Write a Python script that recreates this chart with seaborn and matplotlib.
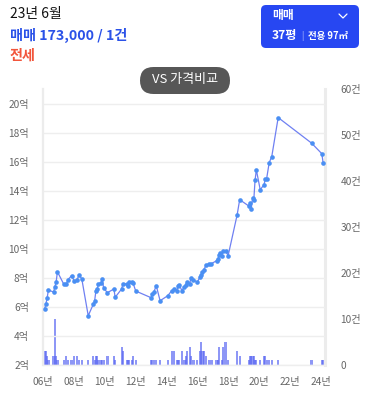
import matplotlib
matplotlib.use("Agg")
import numpy as np
import pandas as pd
import matplotlib.pyplot as plt
import matplotlib.patches as mpatches
from matplotlib.lines import Line2D
from matplotlib.transforms import IdentityTransform
import seaborn as sns

# ---------------- data ----------------
# months counted from Jan 2006 (0 = 2006-01)
price_months = [1, 2, 3, 4, 8, 9, 10, 11, 16, 18, 19, 22, 24, 26, 28, 30, 35,
                39, 40, 41, 42, 43, 45, 46, 47, 50, 55, 56, 61, 62, 65, 66, 67,
                69, 70, 72, 84, 85, 86, 88, 91, 97, 100, 102, 104, 105, 106, 108,
                110, 111, 112, 114, 115, 117, 120, 122, 123, 124, 125, 127, 129,
                131, 135, 136, 137, 138, 139, 140, 142, 144, 151, 153, 160, 161,
                162, 163, 164, 165, 166, 169, 172, 173, 174, 176, 178, 183, 209,
                217, 218]
price_values = [5.86, 6.2, 6.64, 7.17, 7.03, 7.4, 7.72, 8.43, 7.56, 7.56, 7.86,
                8.16, 7.81, 7.86, 8.2, 7.93, 5.4, 6.2, 6.43, 7.12, 7.24, 7.59,
                7.68, 7.91, 7.29, 6.99, 7.24, 6.67, 7.24, 7.59, 7.59, 7.45, 7.72,
                7.70, 7.63, 7.1, 6.64, 6.88, 7.0, 7.47, 6.43, 6.78, 7.12, 7.24,
                7.12, 7.47, 7.52, 7.12, 7.40, 7.54, 7.72, 7.56, 8.0, 7.86, 7.72,
                8.05, 8.2, 8.41, 8.57, 8.9, 8.97, 8.99, 9.19, 9.29, 9.55, 9.7,
                9.5, 9.85, 9.88, 9.54, 12.34, 13.4, 12.97, 13.2, 12.74, 13.52,
                13.38, 14.76, 15.45, 14.09, 14.43, 14.85, 14.85, 15.95, 16.37,
                19.06, 17.3, 16.57, 15.95]

count_months = [1, 2, 3, 4, 8, 9, 10, 11, 16, 18, 19, 22, 24, 26, 28, 30, 35,
                39, 40, 41, 42, 43, 45, 46, 47, 50, 55, 56, 61, 62, 65, 66, 67,
                69, 70, 72, 84, 85, 86, 88, 91, 97, 100, 102, 104, 105, 106, 108,
                110, 111, 112, 114, 115, 117, 120, 122, 123, 124, 125, 127, 129,
                131, 135, 136, 137, 139, 140, 142, 144, 151, 153, 160, 161, 162,
                163, 164, 165, 166, 169, 172, 173, 174, 176, 178, 183, 209, 217,
                218]
count_values = [3, 3, 2, 1, 2, 10, 2, 1, 1, 2, 1, 1, 2, 2, 1, 1, 1,
                2, 1, 2, 2, 1, 1, 1, 1, 2, 2, 1, 4, 3, 1, 1, 1,
                1, 2, 1, 1, 1, 1, 1, 1, 1, 3, 3, 1, 1, 1, 3,
                1, 2, 3, 4, 2, 1, 1, 3, 5, 3, 3, 2, 1,
                1, 1, 1, 4, 1, 4, 5, 1, 3, 2, 1, 2, 2,
                2, 2, 1, 1, 1, 2, 2, 1, 1, 1, 1, 1, 1,
                1]

x_ticks = [2006, 2008, 2010, 2012, 2014, 2016, 2018, 2020, 2022, 2024]
x_tick_labels = ["06년", "08년", "10년", "12년", "14년", "16년", "18년", "20년", "22년", "24년"]
price_ticks = [2, 4, 6, 8, 10, 12, 14, 16, 18, 20]
price_tick_labels = ["2억", "4억", "6억", "8억", "10억", "12억", "14억", "16억", "18억", "20억"]
count_ticks = [0, 10, 20, 30, 40, 50, 60]
count_tick_labels = ["0", "10건", "20건", "30건", "40건", "50건", "60건"]

# ---------------- style ----------------
sns.set_theme(style="white")
plt.rcParams['font.family'] = ['Noto Sans CJK KR', 'DejaVu Sans']

W, H = 376, 397
fig = plt.figure(figsize=(W / 100, H / 100), dpi=100)
fig.patch.set_facecolor("white")

def fx(x):
    return x / W

def fy(y):
    return 1 - y / H

ax = fig.add_axes([fx(43), fy(365), (325 - 43) / W, (365 - 89) / H])
ax2 = ax.twinx()
ax.set_zorder(ax2.get_zorder() + 1)
ax.patch.set_visible(False)

price_df = pd.DataFrame({"t": 2006 + np.array(price_months) / 12.0,
                         "price": price_values})
count_df = pd.DataFrame({"t": 2006 + np.array(count_months) / 12.0,
                         "count": count_values})

# bars (transaction counts)
ax2.bar(count_df["t"], count_df["count"], width=0.14, color="#5866f2",
        alpha=0.68, linewidth=0)
ax2.set_ylim(0, 60)
ax2.set_yticks(count_ticks)
ax2.set_yticklabels(count_tick_labels)
ax2.grid(False)

# price line + markers
sns.lineplot(data=price_df, x="t", y="price", ax=ax, color="#6f80f2",
             linewidth=0.9, sort=False, zorder=3)
sns.scatterplot(data=price_df, x="t", y="price", ax=ax, color="#4a8ff3",
                s=11, linewidth=0, zorder=4)

ax.set_xlim(2005.98, 2024.29)
ax.set_ylim(2, 21.03)
ax.set_yticks(price_ticks)
ax.set_yticklabels(price_tick_labels)
ax.set_xticks(x_ticks)
ax.set_xticklabels(x_tick_labels)
ax.set_xlabel("")
ax.set_ylabel("")
ax2.set_ylabel("")
ax.yaxis.grid(True, color="#eeeeee", linewidth=1)
ax.xaxis.grid(False)

for a in (ax, ax2):
    for s in a.spines.values():
        s.set_visible(False)
ax.spines["left"].set_visible(True)
ax.spines["left"].set_color("#ececec")
ax.spines["left"].set_linewidth(1.6)
ax.spines["bottom"].set_visible(True)
ax.spines["bottom"].set_color("#eeeeee")
ax.spines["bottom"].set_linewidth(1)
ax2.spines["right"].set_visible(True)
ax2.spines["right"].set_color("#ececec")
ax2.spines["right"].set_linewidth(2.2)

ax.tick_params(axis="y", length=0, labelsize=7.3, labelcolor="#666666", pad=10)
ax.tick_params(axis="x", length=0, labelsize=7.3, labelcolor="#666666", pad=9)
ax2.tick_params(axis="y", length=0, labelsize=7.3, labelcolor="#666666", pad=11)

# ---------------- header texts ----------------
fig.text(fx(10), fy(14), "23년 6월", fontsize=10, color="#111111",
         ha="left", va="center", fontweight="medium")
fig.text(fx(10), fy(35), "매매 173,000 / 1건", fontsize=10.2, color="#2b52e8",
         ha="left", va="center", fontweight="bold")
fig.text(fx(10), fy(56), "전세", fontsize=10.2, color="#f2553c",
         ha="left", va="center", fontweight="bold")

# blue selector box
box = mpatches.FancyBboxPatch((261, H - 48), 98, 43,
                              boxstyle="round,pad=0,rounding_size=5",
                              facecolor="#2747f2", edgecolor="none",
                              transform=IdentityTransform())
fig.add_artist(box)
fig.text(fx(272), fy(16), "매매", fontsize=8.5, color="white",
         ha="left", va="center", fontweight="bold")
chev = Line2D([339, 343, 347], [H - 14, H - 18, H - 14], color="white",
              linewidth=0.9, transform=IdentityTransform())
fig.add_artist(chev)
fig.text(fx(272), fy(36), "37평", fontsize=8.7, color="white",
         ha="left", va="center", fontweight="bold")
fig.text(fx(302), fy(36), "|", fontsize=6, color="#c8d0ff",
         ha="center", va="center")
fig.text(fx(308), fy(36.5), "전용 97㎡", fontsize=6.8, color="white",
         ha="left", va="center", fontweight="bold")

# VS pill
pill = mpatches.FancyBboxPatch((140, H - 94), 90, 27,
                               boxstyle="round,pad=0,rounding_size=13.5",
                               facecolor="#575757", edgecolor="none",
                               transform=IdentityTransform(), zorder=10)
fig.add_artist(pill)
fig.text(fx(185), fy(80), "VS 가격비교", fontsize=9.4, color="white",
         ha="center", va="center", fontweight="medium", zorder=11)

fig.savefig("out.png", dpi=100, facecolor="white")
